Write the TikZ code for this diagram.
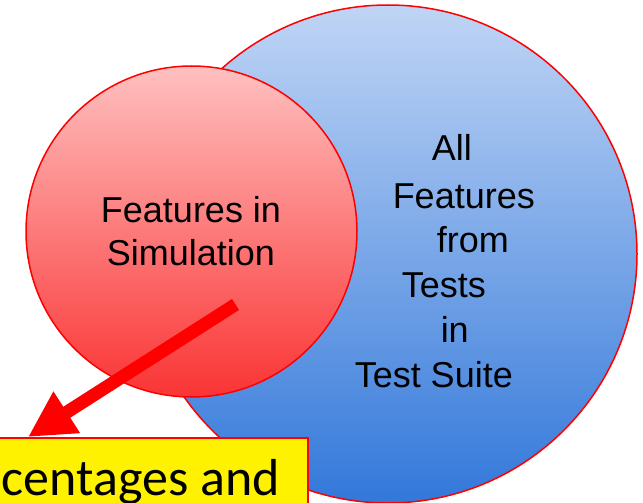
\documentclass[tikz,border=0pt]{standalone}
\usepackage{fontspec}
\setmainfont{Liberation Sans}
\newfontfamily\calib{Carlito}
\usetikzlibrary{arrows.meta}
\definecolor{bluetop}{RGB}{192,213,245}
\definecolor{bluebot}{RGB}{50,120,218}
\definecolor{redtop}{RGB}{255,192,192}
\definecolor{redbot}{RGB}{250,52,52}

\begin{document}
\begin{tikzpicture}[x=1pt, y=-1pt, line width=1.5pt,
  circ/.style = {draw=red, circle, inner sep=0pt},
  lbl/.style = {inner sep=0pt, font=\fontsize{36}{36}\selectfont},
  note/.style = {draw=red, fill=yellow, inner sep=0pt, anchor=north west}]
\clip (0,0) rectangle (643,503);

\node[circ, minimum size=498, top color=bluetop, bottom color=bluebot] (all) at (388,254) {};
\node[circ, minimum size=331, top color=redtop, bottom color=redbot] (sim) at (191.5,231.5) {};

\node[lbl, anchor=base] (sim1) at (191,222) {Features in};
\node[lbl, anchor=base] (sim2) at (191,265) {Simulation};

\node[lbl, anchor=base west] (all1) at (431,160) {All};
\node[lbl, anchor=base west] (all2) at (392,208) {Features};
\node[lbl, anchor=base west] (all3) at (436,252) {from};
\node[lbl, anchor=base west] (all4) at (401,297) {Tests};
\node[lbl, anchor=base west] (all5) at (440,342) {in};
\node[lbl, anchor=base west] (all6) at (354,387) {Test Suite};

\coordinate (start) at (235.5,304.5);
\coordinate (tip) at (28,437);
\draw[red, line width=13pt, -{Triangle[length=46pt, width=46pt]}] (start) -- (tip);

\node[note, minimum width=309, minimum height=90] (box) at (-2,437) {};
\node[inner sep=0pt, anchor=base west, font=\calib\fontsize{52}{52}\selectfont] (pct) at (1,495) {centages and};

\end{tikzpicture}
\end{document}
